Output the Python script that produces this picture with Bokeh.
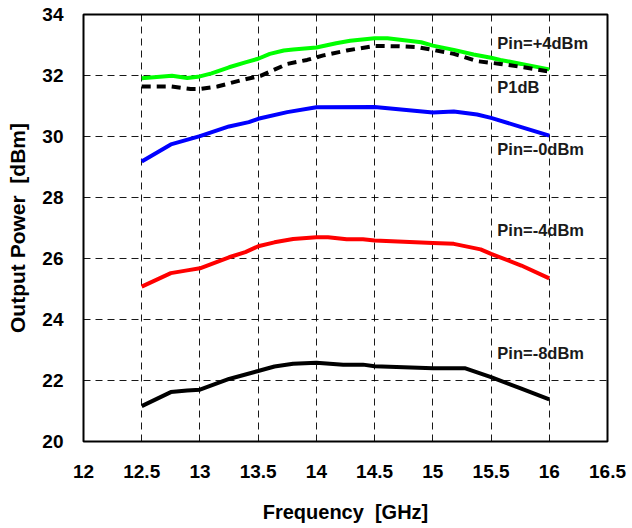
from bokeh.plotting import figure
from bokeh.embed import file_html
from bokeh.resources import INLINE
from bokeh.models import FixedTicker, Label
from bokeh.core.properties import value

freq_p4 = [12.5, 12.76, 12.89, 13.0, 13.1, 13.25, 13.39, 13.5, 13.6, 13.72, 13.8, 14.0, 14.17, 14.29, 14.5, 14.61, 14.9, 15.0, 15.18, 15.35, 15.5, 15.58, 15.76, 16.0]
pin_p4 = [31.91, 31.99, 31.92, 31.97, 32.07, 32.27, 32.43, 32.55, 32.71, 32.82, 32.85, 32.92, 33.06, 33.14, 33.22, 33.22, 33.09, 32.98, 32.84, 32.69, 32.58, 32.51, 32.38, 32.2]

freq_p1 = [12.5, 12.75, 12.92, 13.0, 13.15, 13.35, 13.52, 13.75, 13.92, 14.06, 14.26, 14.5, 14.7, 14.87, 15.0, 15.18, 15.38, 15.58, 15.78, 16.0]
p1db = [31.64, 31.64, 31.56, 31.56, 31.64, 31.84, 31.99, 32.38, 32.51, 32.66, 32.82, 32.97, 32.96, 32.93, 32.84, 32.71, 32.47, 32.38, 32.27, 32.13]

freq_p0 = [12.5, 12.75, 13.0, 13.25, 13.42, 13.5, 13.75, 14.0, 14.5, 15.0, 15.18, 15.38, 15.5, 15.76, 16.0]
pin_p0 = [29.18, 29.74, 30.01, 30.33, 30.47, 30.58, 30.8, 30.96, 30.97, 30.79, 30.82, 30.72, 30.61, 30.31, 30.03]

freq_m4 = [12.5, 12.75, 12.89, 13.0, 13.25, 13.39, 13.5, 13.64, 13.8, 14.0, 14.1, 14.26, 14.4, 14.5, 15.0, 15.18, 15.41, 15.5, 15.76, 16.0]
pin_m4 = [25.08, 25.52, 25.61, 25.68, 26.04, 26.21, 26.4, 26.53, 26.64, 26.7, 26.7, 26.63, 26.63, 26.59, 26.51, 26.48, 26.3, 26.15, 25.77, 25.35]

freq_m8 = [12.5, 12.75, 12.89, 13.0, 13.25, 13.5, 13.64, 13.8, 14.0, 14.23, 14.4, 14.5, 15.0, 15.28, 15.5, 15.76, 16.0]
pin_m8 = [21.16, 21.62, 21.67, 21.7, 22.05, 22.31, 22.46, 22.55, 22.58, 22.52, 22.52, 22.47, 22.4, 22.4, 22.11, 21.73, 21.38]

x_ticks = [12, 12.5, 13, 13.5, 14, 14.5, 15, 15.5, 16, 16.5]
y_ticks = [20, 22, 24, 26, 28, 30, 32, 34]

labels = ["Pin=+4dBm", "P1dB", "Pin=-0dBm", "Pin=-4dBm", "Pin=-8dBm"]
label_x = [15.554, 15.554, 15.554, 15.554, 15.554]
label_y = [33.07, 31.62, 29.58, 26.95, 22.91]

FONT = "Liberation Sans"

p = figure(width=632, height=528, output_backend="svg", toolbar_location=None,
           x_range=(12, 16.5), y_range=(20, 34),
           min_border_left=83, min_border_right=25, min_border_top=14, min_border_bottom=87)
p.background_fill_color = "white"
p.border_fill_color = "white"
p.outline_line_color = "black"
p.outline_line_width = 2

for ax in (p.xaxis[0], p.yaxis[0]):
    ax.major_tick_in = 0
    ax.major_tick_out = 0
    ax.minor_tick_in = 0
    ax.minor_tick_out = 0
    ax.axis_line_color = None
    ax.major_label_text_font = FONT
    ax.major_label_text_font_style = "bold"
    ax.major_label_text_font_size = "19px"
    ax.major_label_text_color = "black"
    ax.axis_label_text_font = FONT
    ax.axis_label_text_font_style = "bold"
    ax.axis_label_text_color = "black"

p.xaxis.axis_label_text_font_size = "20px"
p.yaxis.axis_label_text_font_size = "21px"
p.xaxis.ticker = FixedTicker(ticks=x_ticks)
p.yaxis.ticker = FixedTicker(ticks=y_ticks)
p.xaxis.major_label_overrides = {12: "12", 13: "13", 14: "14", 15: "15", 16: "16"}
p.xaxis.axis_label = "Frequency\u00a0\u00a0[GHz]"
p.yaxis.axis_label = "Output Power\u00a0\u00a0[dBm]"
p.xaxis.major_label_standoff = 23
p.xaxis.axis_label_standoff = 20
p.yaxis.major_label_standoff = 20
p.yaxis.axis_label_standoff = 10

for g in (p.xgrid[0], p.ygrid[0]):
    g.grid_line_color = "black"
    g.grid_line_width = 1
    g.grid_line_dash = "7 5"
    g.grid_line_alpha = 0.9

p.line(freq_m8, pin_m8, line_color="black", line_width=4)
p.line(freq_m4, pin_m4, line_color="#FF0000", line_width=4)
p.line(freq_p0, pin_p0, line_color="#0000FF", line_width=4)
p.line(freq_p4, pin_p4, line_color="#00FF00", line_width=4)
p.line(freq_p1, p1db, line_color="black", line_width=4, line_dash="9 6")

for t, lx, ly in zip(labels, label_x, label_y):
    p.add_layout(Label(x=lx, y=ly, text=t, text_font=FONT, text_font_style="bold",
                       text_font_size="16.5px", text_baseline="alphabetic", text_align="left",
                       text_color="#1a1a1a"))

open("out.html", "w").write(file_html(p, INLINE))
